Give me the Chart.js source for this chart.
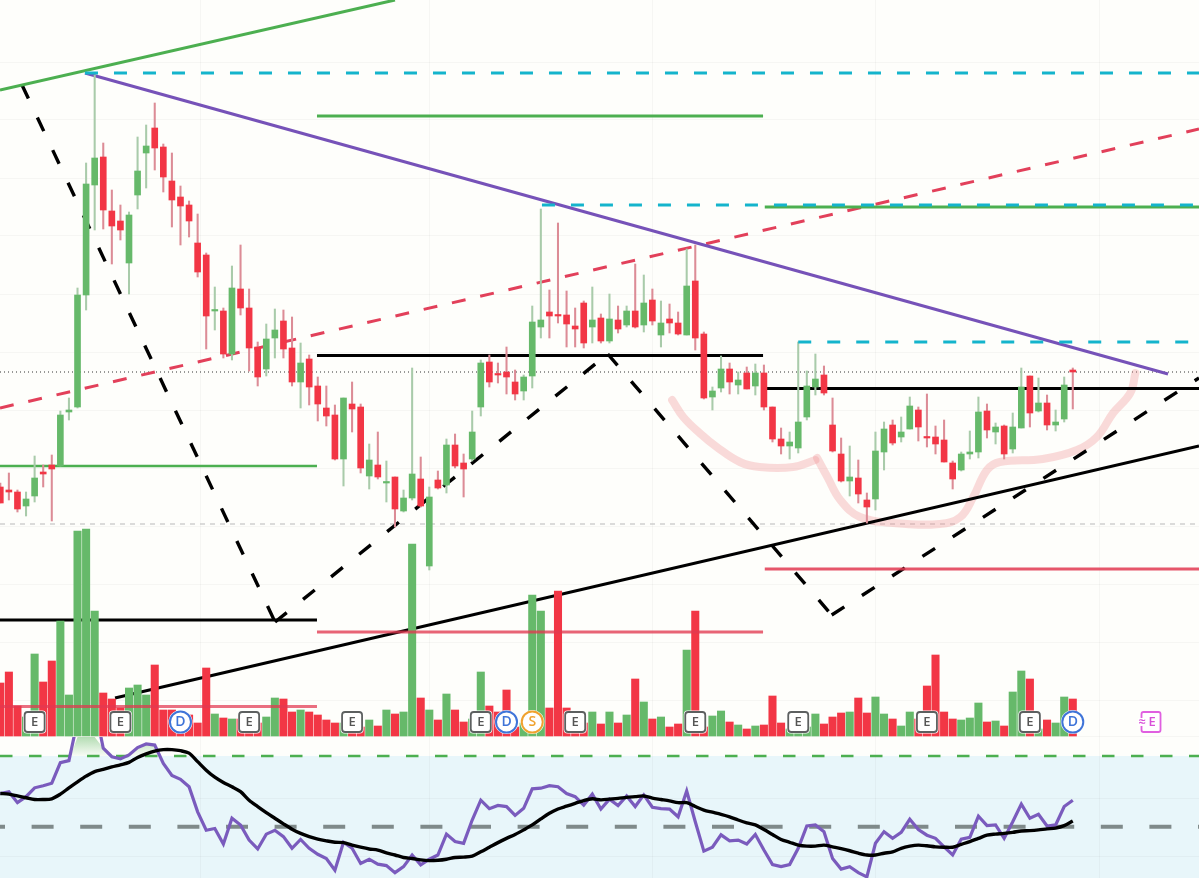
<!DOCTYPE html>
<html>
<head>
<meta charset="utf-8">
<style>html,body{margin:0;padding:0;background:#fefefb;overflow:hidden}canvas{display:block}</style>
<script src="https://cdn.jsdelivr.net/npm/chart.js@4"></script>
</head>
<body>
<canvas id="c" width="1199" height="878"></canvas>
<script>
const opens=[391,388,386,372,382,406,413,412,466,471,583,693,721,667,657,615,683,725,750,731,697,681,673,635,623,567,567,524,589,570,531,509,540,557,530,496,519,492,470,463,419,474,471,402,413,395,401,367,380,399,312,398,393,433,415,419,471,516,504,506,496,487,502,551,566,563,563,552,575,551,560,537,558,553,567,553,578,543,559,555,543,597,544,481,490,509,493,505,492,505,471,439,432,430,461,491,503,453,424,397,400,378,379,426,453,441,449,468,441,441,438,415,408,424,426,467,446,452,429,450,502,467,475,453,459,508];
const closes=[375,386,369,379,400,404,409,463,468,583,694,720,668,652,648,663,707,732,730,701,678,672,657,606,562,568,524,590,570,530,501,539,548,529,496,515,491,474,462,419,480,469,410,418,401,396,369,380,404,372,381,390,433,412,409,446,515,496,503,501,484,501,556,558,562,562,554,549,535,558,537,559,549,567,551,575,557,555,555,544,592,540,480,487,509,496,498,489,505,471,439,432,436,456,492,499,485,427,397,401,384,371,427,449,435,446,472,451,440,434,416,399,424,426,466,448,451,424,451,491,465,475,453,456,493,506];
const highs=[395,405,388,386,422,413,423,467,480,590,715,803,735,688,673,666,741,753,775,734,725,692,677,664,625,591,570,612,633,589,536,554,569,568,561,535,523,501,492,473,480,496,474,434,446,417,401,388,510,421,391,407,439,444,424,467,518,523,515,531,508,503,572,669,588,655,587,570,577,591,564,584,572,572,614,603,589,577,574,566,629,633,546,491,522,515,506,511,514,513,471,450,446,536,507,524,512,480,440,432,418,385,446,456,458,461,481,471,484,452,458,417,426,447,481,474,455,453,465,510,502,500,483,468,501,510];
const lows=[375,378,366,362,376,391,357,412,458,470,568,648,649,614,638,584,669,690,708,686,651,633,641,601,529,548,520,518,563,507,492,502,520,520,492,470,473,457,452,418,392,446,405,389,399,376,351,366,378,371,308,389,385,410,381,417,462,491,495,484,478,478,490,540,540,555,531,531,530,535,535,535,545,551,550,546,553,531,545,543,543,528,479,468,486,484,484,489,483,468,436,424,419,425,458,483,483,426,396,382,375,355,368,408,433,436,449,437,431,424,416,389,407,419,420,440,434,419,425,450,451,466,448,447,456,469];
const volumes=[53,64,30,19,82,54,75,115,41,205,207,125,43,37,28,48,51,41,71,26,26,22,21,13,68,22,18,17,17,17,13,19,38,37,24,26,24,21,16,13,13,10,9,16,10,26,22,24,192,38,26,16,42,26,14,17,64,30,24,46,9,13,141,125,28,145,28,17,13,24,12,24,13,21,57,34,17,19,9,12,86,125,9,20,25,14,11,7,10,11,40,13,7,7,9,22,12,19,23,24,38,23,39,22,17,10,24,17,50,81,24,17,16,18,33,14,15,10,44,65,57,7,16,13,39,37];
const rsi=[59.4,59.9,56.8,58.5,61,61.6,62.3,68.1,68.7,80,88,84,72.2,69.8,69.2,70.3,72.4,73.4,73.1,67.9,64.5,63.4,61.3,54.2,49,49.5,45.1,52.4,50.5,46.2,43.7,47.9,49,47.2,43.9,46.4,43.9,42.2,41,37.7,45.6,43.9,39.6,40.8,39.4,39,37,38.7,42,39.2,40.8,42,47.9,45.8,45.3,51.9,57.5,55.1,56,55.7,53.2,55.2,60.7,60.9,61.6,61.3,59.4,58.5,56.1,59.2,55,57.8,56,58.7,55.7,59,55.5,55.1,55,52.8,60.1,51.4,43.1,44.2,47.7,46,46.2,45.1,47.8,43.4,39.3,38.7,39.3,43.9,50.2,50.5,48.6,41,38,38.7,37,35.8,45.3,48.6,46.7,48.4,52.1,49.2,47.6,46.7,44.3,42,46.5,47,53,50.3,50.5,46.7,51.4,56.4,52.4,53.5,50.2,50.5,55.7,57.5];
const rsiMA=[59.4,59.2,58.7,58.2,57.7,57.7,57.9,59.2,61,62.7,64.3,65.6,66.2,66.9,67.5,68.2,69.6,70.6,71.4,71.8,71.8,71.5,70.8,68.4,66,64,62.5,61.3,59.9,57.5,55.7,54,52.4,50.8,49.3,48.1,47.2,46.5,46,45.6,45.5,44.8,44.2,43.7,43.4,42.6,42,41.3,41,40.6,40.4,40.5,40.8,41.3,41.4,41.7,42.9,44.2,45.5,46.7,47.8,49.1,50.5,52.2,53.8,55,55.8,56.6,57.4,57.9,57.6,57.8,58,58.3,58.5,58.7,58.1,57.7,57.3,56.8,56.8,55.7,54.7,54.1,53.5,52.8,51.9,51.1,50.5,49.2,47.8,46.4,45.6,44.8,44.5,44.5,44.8,44.3,43.8,43.2,42.5,42,42,42.5,42.9,43.9,44.5,44.8,44.6,44.3,44.2,44.2,45,45.8,46.7,47.6,47.9,48.1,48.4,48.8,48.9,49.1,49.4,49.6,50.3,51.6];
const earningsAt=[4,14,29,41,56,67,81,93,108,120];
const dividendsAt=[21,59,125];
const splitsAt=[62];
const upcomingEarningsAt=[134];
const gridX=[9.75,36.9,63.1,89,115.1];
const gridY=[816,758,700,642,584,526,468,410,352,294,236,178,142];
const gridRsi=[58,41.5];
const green='#66b96a',red='#f23645',greenWick='#a9cbaa',redWick='#dc8c96';
const isUp=i=>closes[i]>=opens[i];
const seq=a=>a.map((v,i)=>({x:i,y:v}));
const canvas=document.getElementById('c');
const hoverFill=canvas.getContext('2d').createLinearGradient(0,737,0,756);
hoverFill.addColorStop(0,'rgba(76,175,80,.42)');hoverFill.addColorStop(1,'rgba(76,175,80,.03)');
const line=(pts,color,width,extra)=>Object.assign({type:'line',data:pts.map(p=>({x:p[0],y:p[1]})),borderColor:color,borderWidth:width,pointRadius:0,tension:0,fill:false,xAxisID:'x',yAxisID:'y',order:30},extra||{});
const X0=-0.035,X1=139.71;
const pink='rgba(240,135,140,.3)';
const datasets=[
 line([[X0,788],[46,878]],'#4caf50',3),
 line([[9.87,805],[136.1,504]],'#7652b8',3),
 line([[36.91,762],[88.9,762]],'#4caf50',3),
 line([[89.1,671],[X1,671]],'#4caf50',3),
 line([[X0,412],[36.91,412]],'#4caf50',2.6),
 line([[36.91,522.5],[88.9,522.5]],'#000',3),
 line([[89.1,489.5],[X1,489.5]],'#000',3.2),
 line([[X0,258],[36.91,258]],'#000',2.8),
 line([[X0,470],[X1,749]],'#e2405a',3,{borderDash:[14,15]}),
 line([[2.53,793],[32.02,256]],'#000',3.4,{borderDash:[15,21]}),
 line([[32.02,256],[70.8,524]],'#000',3.4,{borderDash:[15,21]}),
 line([[70.8,524],[96.9,263]],'#000',3.4,{borderDash:[15,21]}),
 line([[96.9,263],[X1,500]],'#000',3.4,{borderDash:[15,21]}),
 line([[13.37,180],[X1,432]],'#000',3),
 line([[78.3,478],[79.6,461],[81.5,445],[83.5,431],[86.2,416],[88.5,411],[92.4,411],[95,418]],pink,8,{tension:.4,borderCapStyle:'round'}),
 line([[95.2,420],[96.4,401],[97.9,378],[100.2,361],[104.1,355],[109.5,354],[111.9,361],[113.4,381],[115,408],[116.5,416],[121.5,419],[125.5,428],[127.8,441],[129.7,465],[131.7,485],[132.3,505]],pink,8,{tension:.4,borderCapStyle:'round'}),
 line([[X0,506],[X1,506]],'#333',1,{borderDash:[1,3],order:31}),
 line([[X0,354],[X1,354]],'#c4c4c4',1.2,{borderDash:[5,5],order:31}),
 {type:'bar',data:seq(volumes),yAxisID:'yv',xAxisID:'x',barThickness:7.4,grouped:false,backgroundColor:volumes.map((v,i)=>isUp(i)?green:red),borderWidth:0,order:20},
 {type:'bar',data:highs.map((h,i)=>({x:i,y:[lows[i],h]})),yAxisID:'y',xAxisID:'x',barThickness:1.4,grouped:false,backgroundColor:highs.map((v,i)=>isUp(i)?greenWick:redWick),borderWidth:0,order:19},
 {type:'bar',data:opens.map((o,i)=>({x:i,y:[o,closes[i]]})),yAxisID:'y',xAxisID:'x',barThickness:6,grouped:false,minBarLength:1.5,backgroundColor:opens.map((v,i)=>isUp(i)?green:red),borderWidth:0,order:18},
 line([[9.87,805],[X1,805]],'#14b4cc',3,{borderDash:[13,16],order:16}),
 line([[63.13,673],[X1,673]],'#14b4cc',3,{borderDash:[13,16],order:16}),
 line([[93,536],[X1,536]],'#14b4cc',3,{borderDash:[13,16],order:16}),
 line([[36.91,246],[88.9,246]],'rgba(226,56,80,.78)',3,{order:15}),
 line([[89.1,309],[X1,309]],'rgba(226,56,80,.85)',2.8,{order:15}),
 line([[X0,171.5],[36.91,171.5]],'rgba(226,56,80,.72)',2.8,{order:15}),
 {type:'line',data:seq(rsi.map(v=>Math.min(v,75.4))),yAxisID:'yr',xAxisID:'x',borderWidth:0,pointRadius:0,fill:{target:{value:70},above:hoverFill,below:'rgba(0,0,0,0)'},order:14},
 line([[X0,70],[X1,70]],'#4caf50',2.6,{yAxisID:'yr',borderDash:[12.5,16.5],order:13}),
 line([[X0,50],[X1,50]],'#7f8a8a',4,{yAxisID:'yr',borderDash:[22,26.6],borderDashOffset:17,order:13}),
 {type:'line',pane:'rsi',data:seq(rsi),yAxisID:'yr',xAxisID:'x',borderColor:'#7a5bbd',borderWidth:3.2,pointRadius:0,tension:0,fill:false,order:12},
 {type:'line',pane:'rsi',data:seq(rsiMA),yAxisID:'yr',xAxisID:'x',borderColor:'#000',borderWidth:3.4,pointRadius:0,tension:.3,fill:false,order:11}
];
const panes={id:'panes',
 beforeDraw(ch){const c=ch.ctx,r=ch.scales.yr,a=ch.chartArea;c.save();c.fillStyle='#fefefb';c.fillRect(0,0,ch.width,ch.height);c.fillStyle='#e8f6fa';const t=r.getPixelForValue(70);c.fillRect(a.left,t,a.right-a.left,a.bottom-t);c.restore();},
 beforeDatasetDraw(ch,args){if(args.meta.dataset&&ch.data.datasets[args.index].pane==='rsi'){const c=ch.ctx,r=ch.scales.yr,a=ch.chartArea,t=r.getPixelForValue(75.4);c.save();c.beginPath();c.rect(a.left,t,a.right-a.left,a.bottom-t);c.clip();}},
 afterDatasetDraw(ch,args){if(args.meta.dataset&&ch.data.datasets[args.index].pane==='rsi'){ch.ctx.restore();}},
 afterDatasetsDraw(ch){
  const c=ch.ctx,x=ch.scales.x,cy=ch.scales.yv.getPixelForValue(14);
  const rr=(px,w,h,rad)=>{c.beginPath();c.roundRect(px-w/2,cy-h/2,w,h,rad);};
  const label=(t,px,col,size)=>{c.fillStyle=col;c.font='600 '+(size||13)+'px "Open Sans",sans-serif';c.textAlign='center';c.textBaseline='middle';c.fillText(t,px,cy+.5);};
  c.save();
  earningsAt.forEach(i=>{const p=x.getPixelForValue(i);c.fillStyle='#fff';rr(p,23,23,4);c.fill();rr(p,20,20,3);c.fill();c.strokeStyle='#5d6060';c.lineWidth=1.8;c.stroke();label('E',p,'#555');});
  dividendsAt.forEach(i=>{const p=x.getPixelForValue(i);c.fillStyle='#fff';c.beginPath();c.arc(p,cy,12,0,7);c.fill();c.beginPath();c.arc(p,cy,10.5,0,7);c.strokeStyle='#3f74d8';c.lineWidth=2;c.stroke();label('D',p,'#3f74d8',14);});
  splitsAt.forEach(i=>{const p=x.getPixelForValue(i);c.fillStyle='#fff';c.beginPath();c.arc(p,cy,12,0,7);c.fill();c.beginPath();c.arc(p,cy,10.5,0,7);c.strokeStyle='#f0a22e';c.lineWidth=2;c.stroke();label('S',p,'#f0a22e',14);});
  upcomingEarningsAt.forEach(i=>{const p=x.getPixelForValue(i);rr(p+1,19,20,2);c.fillStyle='#fff';c.fill();c.strokeStyle='#e05fe0';c.lineWidth=1.8;c.stroke();label('E',p+2,'#d84fd8');c.fillStyle='#fff';c.fillRect(p-12,cy-4,8,8);label('≈',p-8,'#d84fd8',13);});
  c.restore();}
};
const hide={display:false};
const axis=(o,grid,col)=>Object.assign({type:'linear',display:true,ticks:{display:false},border:{display:false},grid:grid?{drawTicks:false,color:col||'rgba(60,70,80,.045)',lineWidth:1}:hide,afterFit(s){s.width=0;},afterBuildTicks:grid?(s=>{s.ticks=grid.map(v=>({value:v}));}):undefined},o);
new Chart(canvas,{
 data:{datasets},
 plugins:[panes],
 options:{
  responsive:false,animation:false,devicePixelRatio:1,events:[],
  layout:{padding:0},
  plugins:{legend:hide,tooltip:{enabled:false},title:hide},
  scales:{
   x:Object.assign(axis({min:X0,max:X1,offset:false},gridX),{afterFit(s){s.height=0;}}),
   y:axis({min:0,max:878},gridY),
   yv:axis({min:-142,max:736}),
   yr:axis({min:35.49,max:283.86},gridRsi)
  }
 }
});
</script>
</body>
</html>
